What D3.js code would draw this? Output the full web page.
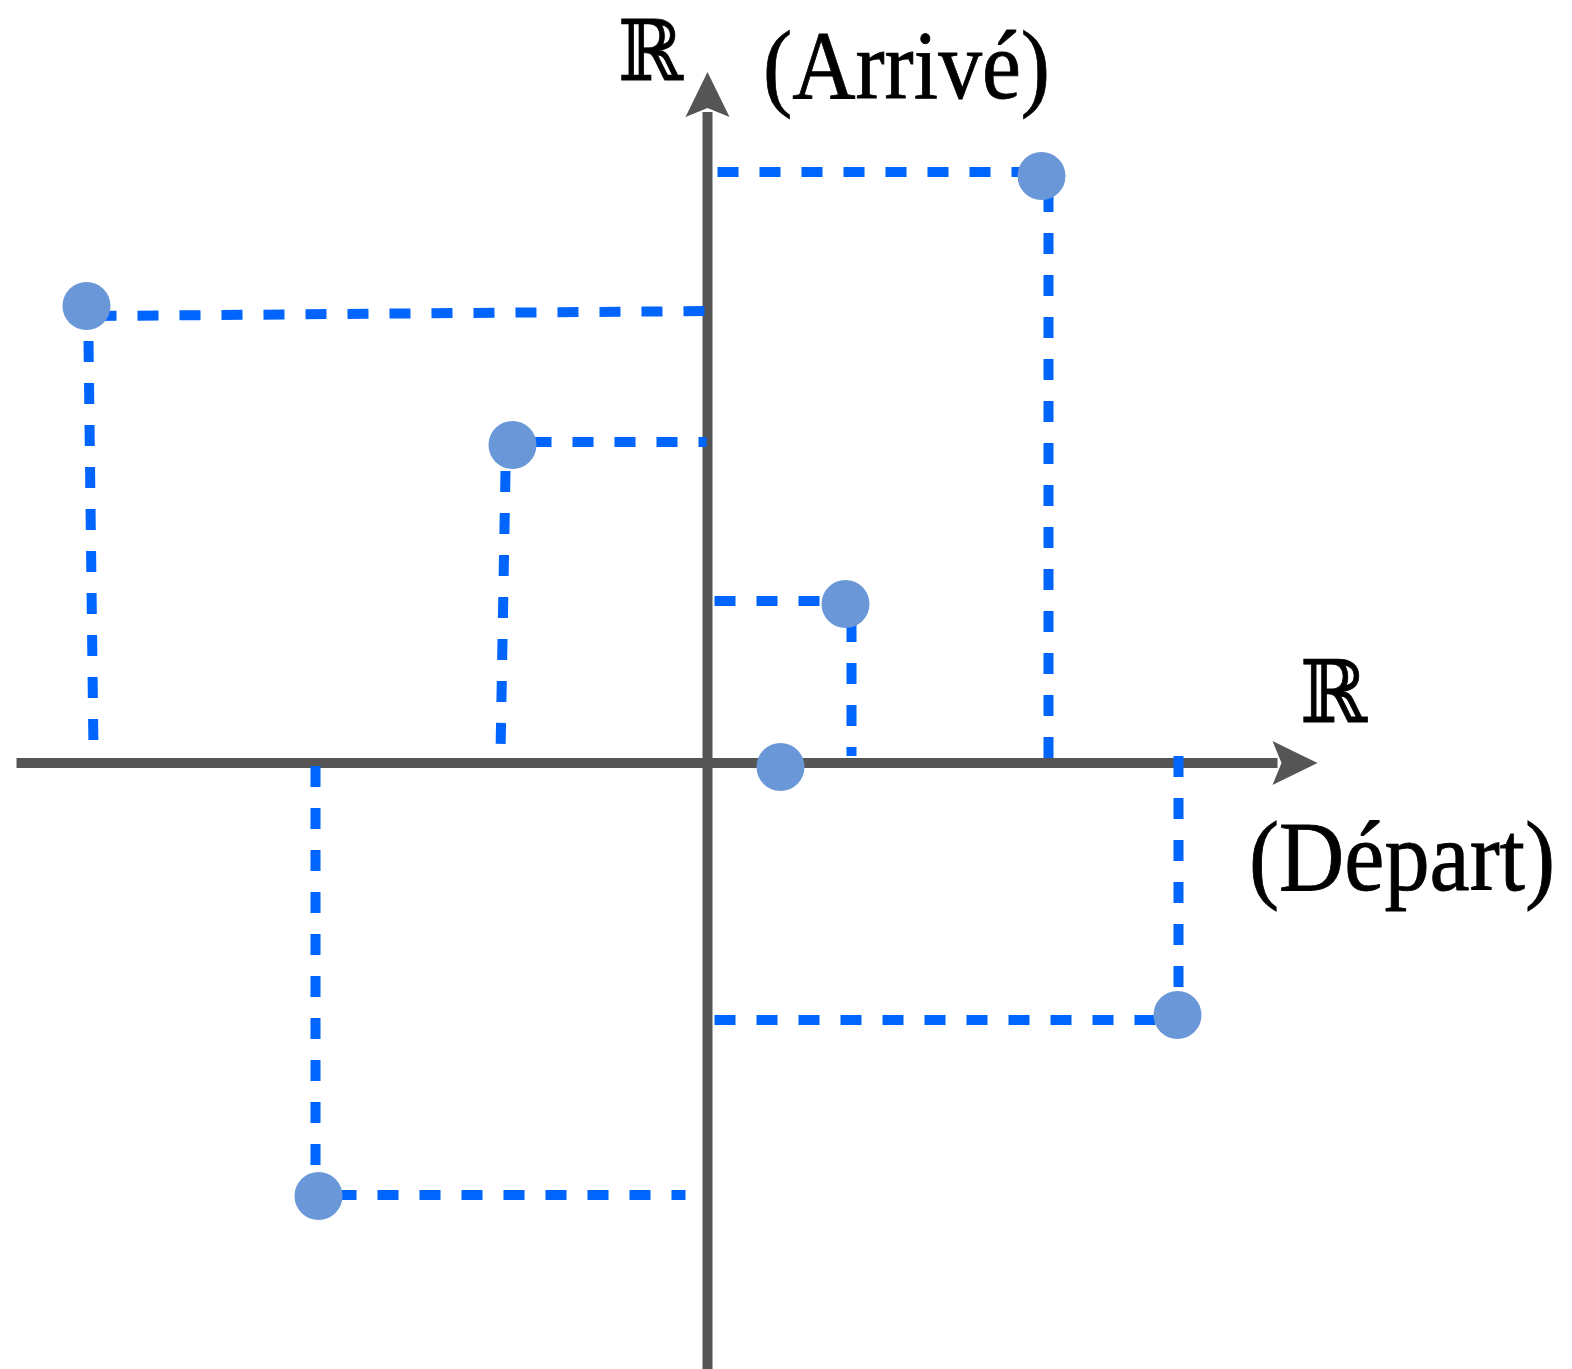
<!DOCTYPE html>
<html>
<head>
<meta charset="utf-8">
<script src="https://cdn.jsdelivr.net/npm/d3@7"></script>
<style>
  html, body { margin: 0; padding: 0; background: #fff; }
  svg { display: block; }
</style>
</head>
<body>
<svg id="chart" width="1572" height="1369"></svg>
<script>
// ---- data (units: 1 unit = 50px, origin at axes crossing) ----
const pointX = [6.68, -12.42, -3.90, 2.76, 1.46, 9.40, -7.78];
const pointY = [11.74, 9.14, 6.36, 3.18, -0.08, -5.04, -8.66];

// guide segments [x0, y0, x1, y1] in data units (hand-drawn, slightly off)
const guideX0 = [0.20, 6.82, -12.24, -12.38, -3.54, -4.04, 0.14, 2.88, 0.14, 9.42, -7.44, -7.84];
const guideY0 = [11.82, 11.44, 8.94, 8.44, 6.42, 5.84, 3.24, 2.84, -5.14, 0.14, -8.64, -0.06];
const guideX1 = [6.46, 6.82, 0.06, -12.28, -0.02, -4.14, 2.46, 2.88, 9.06, 9.42, -0.44, -7.84];
const guideY1 = [11.82, -0.16, 9.04, 0.24, 6.42, 0.20, 3.24, 0.14, -5.14, -4.56, -8.64, -8.16];

const axisXExtent = [-13.82, 12.20];   // horizontal axis from left end to arrow tip
const axisYExtent = [-12.14, 13.82];   // vertical axis from bottom to arrow tip

const labelTexts = ["ℝ", "(Arrivé)", "ℝ", "(Départ)"];

// ---- scales ----
const W = 1572, H = 1369;
const x = d3.scaleLinear().domain([0, 1]).range([707.5, 757.5]);
const y = d3.scaleLinear().domain([0, 1]).range([763, 713]);

const svg = d3.select("#chart");
const axisColor = "#555555";
const dashColor = "#0064ff";
const dotColor = "#6a97d7";

// ---- axes ----
const ax = svg.append("g");
// horizontal
ax.append("line")
  .attr("x1", x(axisXExtent[0])).attr("x2", x(axisXExtent[1]) - 40)
  .attr("y1", y(0)).attr("y2", y(0))
  .attr("stroke", axisColor).attr("stroke-width", 10);
// vertical
ax.append("line")
  .attr("x1", x(0)).attr("x2", x(0))
  .attr("y1", y(axisYExtent[0]) + 5).attr("y2", y(axisYExtent[1]) + 40)
  .attr("stroke", axisColor).attr("stroke-width", 10);

// arrowheads
const hx = x(axisXExtent[1]), hy = y(0);
ax.append("path")
  .attr("d", `M${hx},${hy} L${hx - 45},${hy - 22} L${hx - 36},${hy} L${hx - 45},${hy + 22} Z`)
  .attr("fill", axisColor);
const vx = x(0), vy = y(axisYExtent[1]);
ax.append("path")
  .attr("d", `M${vx},${vy} L${vx - 22},${vy + 45} L${vx},${vy + 36} L${vx + 22},${vy + 45} Z`)
  .attr("fill", axisColor);

// ---- guide dashes ----
const guides = guideX0.map((d, i) => ({ x0: d, y0: guideY0[i], x1: guideX1[i], y1: guideY1[i] }));
svg.append("g").selectAll("line").data(guides).join("line")
  .attr("x1", d => x(d.x0)).attr("y1", d => y(d.y0))
  .attr("x2", d => x(d.x1)).attr("y2", d => y(d.y1))
  .attr("stroke", dashColor).attr("stroke-width", 10)
  .attr("stroke-dasharray", "21 21");

// ---- points ----
const pts = pointX.map((d, i) => ({ x: d, y: pointY[i] }));
svg.append("g").selectAll("circle").data(pts).join("circle")
  .attr("cx", d => x(d.x)).attr("cy", d => y(d.y))
  .attr("r", 24).attr("fill", dotColor);

// ---- labels ----
const lab = svg.append("g").attr("fill", "#000").attr("stroke", "#000").attr("stroke-width", 0.8);
lab.append("text").text(labelTexts[0])
  .attr("x", 618).attr("y", 80)
  .attr("font-family", "DejaVu Serif, DejaVu Sans, serif").attr("font-size", 84)
  .attr("textLength", 65).attr("lengthAdjust", "spacingAndGlyphs");
lab.append("text").text(labelTexts[1])
  .attr("x", 763).attr("y", 98)
  .attr("font-family", "Liberation Serif, serif").attr("font-size", 97)
  .attr("textLength", 287).attr("lengthAdjust", "spacingAndGlyphs");
lab.append("text").text(labelTexts[2])
  .attr("x", 1300).attr("y", 722)
  .attr("font-family", "DejaVu Serif, DejaVu Sans, serif").attr("font-size", 86)
  .attr("textLength", 67).attr("lengthAdjust", "spacingAndGlyphs");
lab.append("g").attr("transform", "translate(1249,890) scale(1,1.08)")
  .append("text").text(labelTexts[3])
  .attr("x", 0).attr("y", 0)
  .attr("font-family", "Liberation Serif, serif").attr("font-size", 92)
  .attr("textLength", 306).attr("lengthAdjust", "spacingAndGlyphs");
</script>
</body>
</html>
